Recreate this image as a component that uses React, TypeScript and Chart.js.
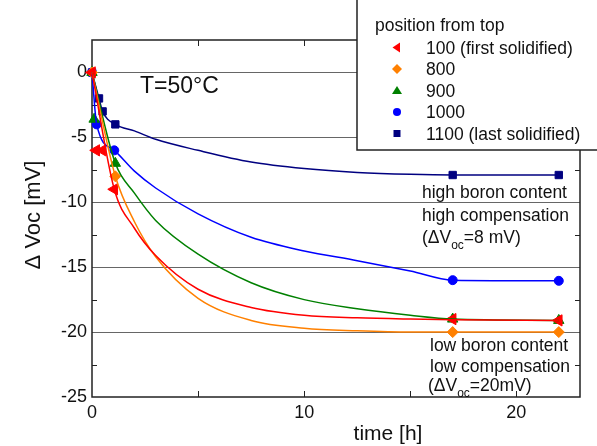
import React, { useEffect, useRef } from "react";
import { Chart, registerables } from "chart.js";

Chart.register(...registerables);

const FONT = '"Liberation Sans", Arial, Helvetica, sans-serif';

// axes
const xMin = 0;
const xMax = 23;
const yMin = -25;
const yMax = 2.5;
const xTickValues = [0, 10, 20];
const xMinorTicks = [5, 10, 15, 20];
const yTickValues = [-25, -20, -15, -10, -5, 0];
const yMinorTicks = [-22.5, -17.5, -12.5, -7.5, -2.5];

// measured points (time [h], ΔVoc [mV])
const time100 = [0, 0.2, 0.5, 1.05, 17, 22];
const dvoc100 = [0, -6, -6, -9, -19, -19.1];
const time800 = [0, 1.1, 17, 22];
const dvoc800 = [0, -8, -20, -20];
const time900 = [0, 0.1, 1.1, 17, 22];
const dvoc900 = [0, -3.6, -7, -19, -19.1];
const time1000 = [0, 0.22, 1.05, 17, 22];
const dvoc1000 = [0, -4, -6, -16, -16.05];
const time1100 = [0, 0.33, 0.5, 1.1, 17, 22];
const dvoc1100 = [0, -2, -3, -4, -7.9, -7.9];

// fitted curves
const fitTime100 = [0, 1.05, 2, 3, 5, 7.5, 10, 12.5, 15, 17, 22];
const fitVal100 = [0, -9, -12, -14.1, -16.7, -18.1, -18.7, -18.9, -19, -19.05, -19.1];
const fitTime800 = [0, 1.1, 2, 3, 5, 7.5, 10, 12.5, 15, 17, 22];
const fitVal800 = [0, -8, -11.5, -14.2, -17.4, -19.1, -19.7, -19.9, -20, -20, -20];
const fitTime900 = [0, 1.1, 2, 3, 5, 7.5, 10, 12.5, 15, 17, 22];
const fitVal900 = [0, -7, -9.3, -11.4, -14, -16.2, -17.5, -18.2, -18.7, -19, -19.1];
const fitTime1000 = [0, 0.22, 1.05, 2, 3, 5, 7.5, 10, 12.5, 15, 17, 22];
const fitVal1000 = [0, -4, -6, -7.6, -8.9, -10.9, -12.7, -13.75, -14.5, -15.3, -16, -16.05];
const fitTime1100 = [0, 0.33, 0.5, 1.1, 2, 3, 5, 7.5, 10, 12.5, 15, 17, 22];
const fitVal1100 = [0, -2, -3, -4, -4.5, -5.15, -6, -6.9, -7.4, -7.7, -7.85, -7.9, -7.9];

const legendTitle = "position from top";
const seriesNames = ["100 (first solidified)", "800", "900", "1000", "1100 (last solidified)"];
const seriesColors = ["#ff0000", "#ff8000", "#008000", "#0000ff", "#000080"];

const tempLabel = "T=50°C";
const highLines = ["high boron content", "high compensation"];
const highVocRest = "=8 mV)";
const lowLines = ["low boron content", "low compensation"];
const lowVocRest = "=20mV)";

const series = [
  { t: time100, v: dvoc100, ft: fitTime100, fv: fitVal100, style: "triangle", rot: -90, r: 6.5, mk: "triL" },
  { t: time800, v: dvoc800, ft: fitTime800, fv: fitVal800, style: "rectRot", rot: 0, r: 5.5, mk: "diamond" },
  { t: time900, v: dvoc900, ft: fitTime900, fv: fitVal900, style: "triangle", rot: 0, r: 6, mk: "triU" },
  { t: time1000, v: dvoc1000, ft: fitTime1000, fv: fitVal1000, style: "circle", rot: 0, r: 4.5, mk: "circle" },
  { t: time1100, v: dvoc1100, ft: fitTime1100, fv: fitVal1100, style: "rect", rot: 0, r: 5.2, mk: "square" },
];

function drawMarker(ctx: CanvasRenderingContext2D, kind: string, cx: number, cy: number, color: string) {
  ctx.fillStyle = color;
  ctx.beginPath();
  if (kind === "triL") {
    ctx.moveTo(cx - 4.5, cy);
    ctx.lineTo(cx + 3, cy - 5);
    ctx.lineTo(cx + 3, cy + 5);
  } else if (kind === "diamond") {
    ctx.moveTo(cx, cy - 5);
    ctx.lineTo(cx + 5, cy);
    ctx.lineTo(cx, cy + 5);
    ctx.lineTo(cx - 5, cy);
  } else if (kind === "triU") {
    ctx.moveTo(cx, cy - 4.5);
    ctx.lineTo(cx + 5, cy + 3.5);
    ctx.lineTo(cx - 5, cy + 3.5);
  } else if (kind === "circle") {
    ctx.arc(cx, cy, 4, 0, Math.PI * 2);
  } else {
    ctx.rect(cx - 3.5, cy - 3.5, 7, 7);
  }
  ctx.closePath();
  ctx.fill();
}

function drawVoc(ctx: CanvasRenderingContext2D, x: number, baseline: number, rest: string) {
  ctx.font = `17.5px ${FONT}`;
  ctx.fillText("(ΔV", x, baseline);
  let w = ctx.measureText("(ΔV").width;
  ctx.font = `12px ${FONT}`;
  ctx.fillText("oc", x + w, baseline + 6);
  w += ctx.measureText("oc").width;
  ctx.font = `17.5px ${FONT}`;
  ctx.fillText(rest, x + w, baseline);
}

const decorPlugin = {
  id: "decor",
  beforeDatasetsDraw(chart: any) {
    const { ctx, chartArea: a, scales } = chart;
    const xs = scales.x;
    const ys = scales.y;
    ctx.save();
    const line = (x1: number, y1: number, x2: number, y2: number) => {
      ctx.beginPath();
      ctx.moveTo(x1, y1);
      ctx.lineTo(x2, y2);
      ctx.stroke();
    };
    ctx.strokeStyle = "#666";
    ctx.lineWidth = 1;
    for (const v of yTickValues) {
      if (v === yMin) continue;
      const py = Math.round(ys.getPixelForValue(v)) + 0.5;
      line(a.left, py, a.right, py);
    }
    ctx.strokeStyle = "#222";
    ctx.lineWidth = 1;
    for (const v of xMinorTicks) {
      const px = Math.round(xs.getPixelForValue(v)) + 0.5;
      line(px, a.bottom, px, a.bottom - 6);
      line(px, a.top, px, a.top + 6);
    }
    for (const v of yMinorTicks) {
      const py = Math.round(ys.getPixelForValue(v)) + 0.5;
      line(a.left, py, a.left + 5, py);
      line(a.right, py, a.right - 5, py);
    }
    ctx.lineWidth = 1.5;
    ctx.strokeRect(a.left, a.top, a.right - a.left, a.bottom - a.top);
    ctx.restore();
  },
  afterDatasetsDraw(chart: any) {
    const { ctx } = chart;
    ctx.save();
    ctx.fillStyle = "#111";
    ctx.textAlign = "left";
    ctx.textBaseline = "alphabetic";
    ctx.font = `23px ${FONT}`;
    ctx.fillText(tempLabel, 140, 93);
    ctx.font = `17.5px ${FONT}`;
    ctx.fillText(highLines[0], 422, 198);
    ctx.fillText(highLines[1], 422, 221);
    drawVoc(ctx, 422, 243, highVocRest);
    ctx.font = `17.5px ${FONT}`;
    ctx.fillText(lowLines[0], 430, 351);
    ctx.fillText(lowLines[1], 430, 372);
    drawVoc(ctx, 428, 391, lowVocRest);
    // axis titles
    ctx.font = `21px ${FONT}`;
    ctx.textAlign = "center";
    ctx.fillText("time [h]", 388, 440);
    ctx.save();
    ctx.translate(40, 215);
    ctx.rotate(-Math.PI / 2);
    ctx.font = `22px ${FONT}`;
    ctx.fillText("Δ Voc [mV]", 0, 0);
    ctx.restore();
    ctx.restore();
  },
  afterDraw(chart: any) {
    const { ctx } = chart;
    ctx.save();
    ctx.fillStyle = "#fff";
    ctx.fillRect(357, -5, 250, 155);
    ctx.strokeStyle = "#222";
    ctx.lineWidth = 1.5;
    ctx.strokeRect(357, -5, 250, 155);
    ctx.fillStyle = "#111";
    ctx.textAlign = "left";
    ctx.textBaseline = "alphabetic";
    ctx.font = `17.5px ${FONT}`;
    ctx.fillText(legendTitle, 375, 31);
    seriesNames.forEach((name, i) => {
      const base = 53.5 + 21.5 * i;
      drawMarker(ctx, series[i].mk, 397, base - 6, seriesColors[i]);
      ctx.fillStyle = "#111";
      ctx.font = `17.5px ${FONT}`;
      ctx.fillText(name, 426, base);
    });
    ctx.restore();
  },
};

export default function App() {
  const ref = useRef<HTMLCanvasElement>(null);
  useEffect(() => {
    if (!ref.current) return;
    const datasets: any[] = [];
    series.forEach((s, i) => {
      datasets.push({
        label: seriesNames[i] + " fit",
        data: s.ft.map((t, k) => ({ x: t, y: s.fv[k] })),
        showLine: true,
        borderColor: seriesColors[i],
        borderWidth: 1.5,
        pointRadius: 0,
        cubicInterpolationMode: "monotone",
        clip: false,
      });
    });
    series.forEach((s, i) => {
      datasets.push({
        label: seriesNames[i],
        data: s.t.map((t, k) => ({ x: t, y: s.v[k] })),
        showLine: false,
        pointStyle: s.style,
        rotation: s.rot,
        pointRadius: s.r,
        backgroundColor: seriesColors[i],
        borderColor: seriesColors[i],
        borderWidth: 1,
        clip: false,
      });
    });
    const chart = new Chart(ref.current, {
      type: "scatter",
      data: { datasets },
      options: {
        responsive: false,
        animation: false,
        layout: { padding: { top: 40, right: 17, left: 0, bottom: 0 } },
        plugins: { legend: { display: false }, tooltip: { enabled: false } },
        scales: {
          x: {
            type: "linear",
            min: xMin,
            max: xMax,
            afterBuildTicks: (s: any) => {
              s.ticks = xTickValues.map((v) => ({ value: v }));
            },
            afterFit: (s: any) => {
              s.height = 49;
            },
            grid: { display: false, drawTicks: false },
            border: { display: false },
            ticks: { font: { family: FONT, size: 18 }, color: "#111", padding: 5, maxRotation: 0 },
          },
          y: {
            type: "linear",
            min: yMin,
            max: yMax,
            afterBuildTicks: (s: any) => {
              s.ticks = yTickValues.map((v) => ({ value: v }));
            },
            afterFit: (s: any) => {
              s.width = 92;
            },
            grid: { display: false, drawTicks: false },
            border: { display: false },
            ticks: { font: { family: FONT, size: 18 }, color: "#111", padding: 5 },
          },
        },
      },
      plugins: [decorPlugin],
    } as any);
    return () => chart.destroy();
  }, []);
  return (
    <div style={{ position: "absolute", left: 0, top: 0, width: 597, height: 446, background: "#fff" }}>
      <canvas ref={ref} width={597} height={446} style={{ display: "block" }} />
    </div>
  );
}
